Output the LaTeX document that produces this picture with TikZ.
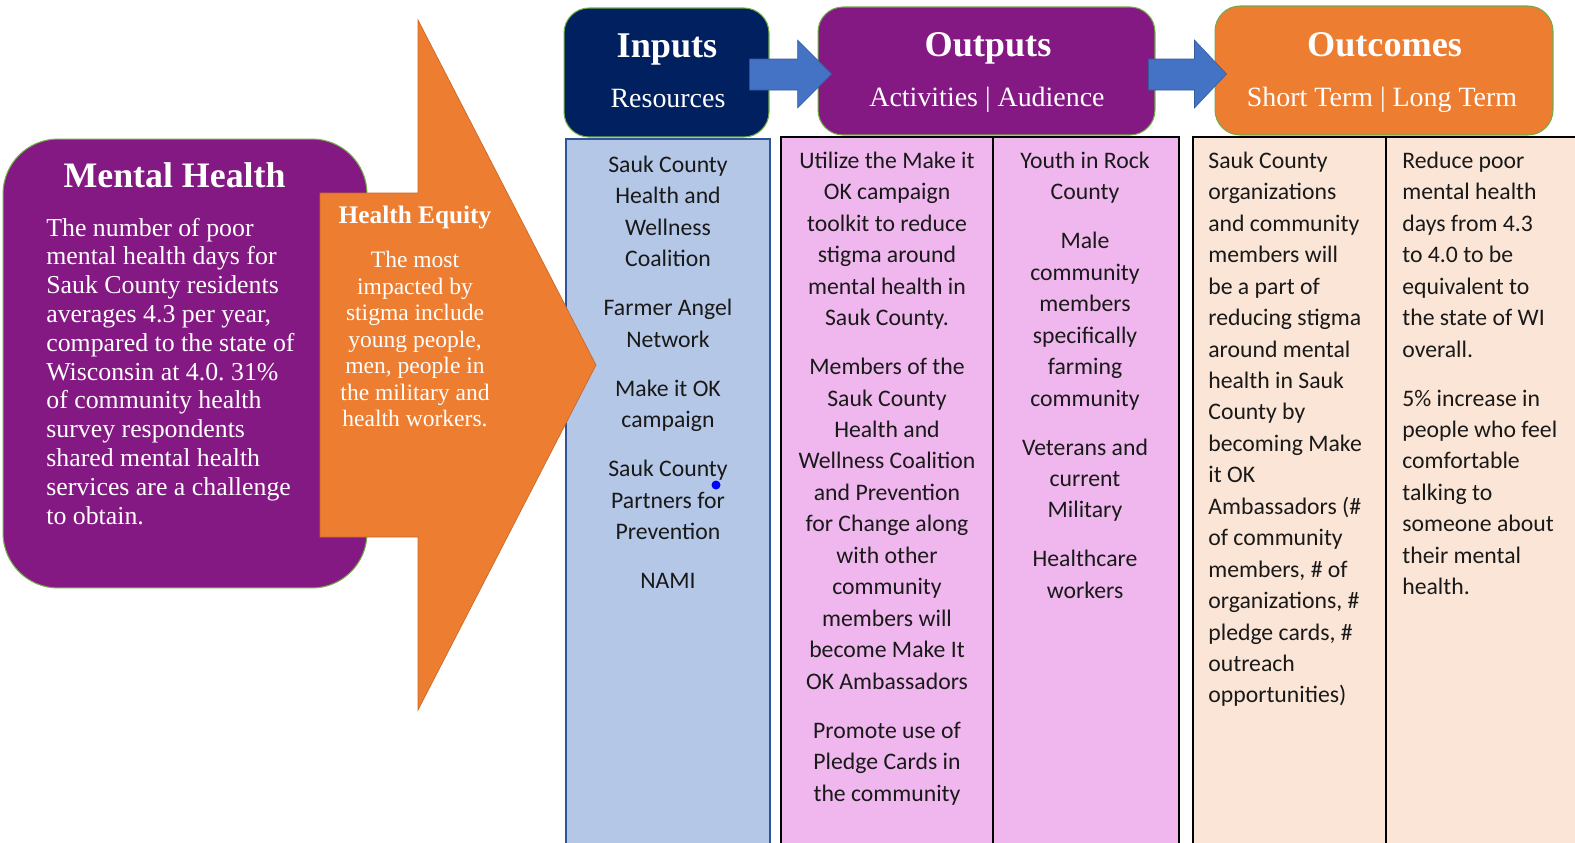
\documentclass[tikz,border=0pt]{standalone}
\usepackage{fontspec}
\setmainfont{Liberation Serif}
\newfontfamily\calfont{Carlito}
\usetikzlibrary{calc}
\usetikzlibrary{positioning}
\frenchspacing

\definecolor{mhpurple}{RGB}{133,25,131}
\definecolor{eqorange}{RGB}{237,125,49}
\definecolor{navy}{RGB}{0,32,96}
\definecolor{arrowblue}{RGB}{68,114,196}
\definecolor{inblue}{RGB}{180,199,231}
\definecolor{inborder}{RGB}{47,85,151}
\definecolor{outpink}{RGB}{240,183,238}
\definecolor{outpeach}{RGB}{251,229,214}
\definecolor{edgegreen}{RGB}{112,173,71}

\tikzset{
  headbox/.style={rectangle, rounded corners=0.5cm, draw=edgegreen, line width=0.6pt, inner sep=0pt},
  headtitle/.style={anchor=base, text=white, font=\bfseries\fontsize{20.6}{24}\selectfont},
  headsub/.style={anchor=base, text=white, font=\fontsize{15.9}{19}\selectfont},
  coltext/.style={inner sep=0pt, text=black!90, font=\calfont\fontsize{13.5}{17.9}\selectfont},
  bluearrow/.style={fill=arrowblue, draw=arrowblue!80!black, line width=0.3pt},
}

\begin{document}
\begin{tikzpicture}[x=0.02cm, y=-0.02cm]
            \useasboundingbox (0,0) rectangle (1575,842);
            \clip (0,0) rectangle (1575,842);

            % Columns
            \draw[fill=inblue, draw=inborder, line width=0.8pt] (566,139) rectangle (770,860);
            \draw[fill=outpink, draw=black, line width=1pt] (781,137) rectangle (993,860);
            \draw[fill=outpink, draw=black, line width=1pt] (993,137) rectangle (1179,860);
            \draw[fill=outpeach, draw=black, line width=1pt] (1193,137) rectangle (1386,860);
            \draw[fill=outpeach, draw=black, line width=1pt] (1386,137) rectangle (1600,860);

            % Mental health box and equity arrow
            \node[rectangle, rounded corners=1.1cm, fill=mhpurple, draw=edgegreen, line width=0.6pt,
                  minimum width=7.28cm, minimum height=8.98cm] (mh) at (185,363.5) {};
            \draw[fill=eqorange, draw=eqorange!85!black, line width=0.4pt]
                (320,193) -- (418,193) -- (418,20) -- (596,365) -- (418,710) -- (418,537) -- (320,537) -- cycle;

            % Header boxes
            \node[headbox, fill=navy, minimum width=4.1cm, minimum height=2.58cm] (inputs) at (666.5,72.5) {};
            \node[headbox, fill=mhpurple, minimum width=6.74cm, minimum height=2.56cm] (outputs) at (986.5,71) {};
            \node[headbox, fill=eqorange, minimum width=6.76cm, minimum height=2.58cm] (outcomes) at (1384,70.5) {};

            % Arrows between headers
            \draw[bluearrow] ($(inputs.east)+(-20,-13.5)$) -- ++(48,0) -- ++(0,-19) -- ++(34,34)
                -- ++(-34,34) -- ++(0,-18) -- ++(-48,0) -- cycle;
            \draw[bluearrow] ($(outputs.east)+(-7,-12)$) -- ++(46,0) -- ++(0,-19) -- ++(32,34)
                -- ++(-32,34) -- ++(0,-18) -- ++(-46,0) -- cycle;

            % Header texts
            \node[headtitle] (intitle) at ($(inputs.north)+(0.5,50)$) {Inputs};
            \node[headsub] (insub) at ($(inputs.north)+(1.5,100)$) {Resources};
            \node[headtitle] (outtitle) at ($(outputs.north)+(1.5,50)$) {Outputs};
            \node[headsub] (outsub) at ($(outputs.north)+(0.5,100)$) {Activities | Audience};
            \node[headtitle] (ouctitle) at ($(outcomes.north)+(0.5,51)$) {Outcomes};
            \node[headsub] (oucsub) at ($(outcomes.north)+(-2,101)$) {Short Term | Long Term};

            % Left texts
            \node[anchor=base, text=white, font=\bfseries\fontsize{20.4}{24}\selectfont] (mhtitle) at (174.5,187) {Mental Health};
            \node[anchor=north west, align=left, inner sep=0pt, text=white, font=\fontsize{14.7}{16.4}\selectfont] (mhtext) at (46,217.5)
                {The number of poor\\mental health days for\\Sauk County residents\\averages 4.3 per year,\\compared to the state of\\Wisconsin at 4.0. 31\%\\of community health\\survey respondents\\shared mental health\\services are a challenge\\to obtain.};
            \node[anchor=base, text=white, font=\bfseries\fontsize{14.4}{17}\selectfont] (eqtitle) at (415,223) {Health Equity};
            \node[anchor=north, align=center, inner sep=0pt, text=white, font=\fontsize{13.4}{15.1}\selectfont] (eqtext) at (415,251)
                {The most\\impacted by\\stigma include\\young people,\\men, people in\\the military and\\health workers.};

            % Column texts
            \node[coltext, anchor=north, align=center] (resources) at (668,155.5)
                {Sauk County\\Health and\\Wellness\\Coalition\\[10pt]Farmer Angel\\Network\\[10pt]Make it OK\\campaign\\[10pt]Sauk County\\Partners for\\Prevention\\[10pt]NAMI};
            \node[coltext, anchor=north, align=center] (activities) at (887,151.5)
                {Utilize the Make it\\OK campaign\\toolkit to reduce\\stigma around\\mental health in\\Sauk County.\\[10pt]Members of the\\Sauk County\\Health and\\Wellness Coalition\\and Prevention\\for Change along\\with other\\community\\members will\\become Make It\\OK Ambassadors\\[10pt]Promote use of\\Pledge Cards in\\the community};
            \node[coltext, anchor=north, align=center] (audience) at (1085,151.5)
                {Youth in Rock\\County\\[10pt]Male\\community\\members\\specifically\\farming\\community\\[10pt]Veterans and\\current\\Military\\[10pt]Healthcare\\workers};
            \node[coltext, anchor=north west, align=left] (shortterm) at (1208,151.5)
                {Sauk County\\organizations\\and community\\members will\\be a part of\\reducing stigma\\around mental\\health in Sauk\\County by\\becoming Make\\it OK\\Ambassadors (\#\\of community\\members, \# of\\organizations, \#\\pledge cards, \#\\outreach\\opportunities)};
            \node[coltext, anchor=north west, align=left] (longterm) at (1402,151.5)
                {Reduce poor\\mental health\\days from 4.3\\to 4.0 to be\\equivalent to\\the state of WI\\overall.\\[10pt]5\% increase in\\people who feel\\comfortable\\talking to\\someone about\\their mental\\health.};

            % Dot
            \node[circle, fill=blue, inner sep=0pt, minimum size=0.18cm] (dot) at (716,485) {};

        \end{tikzpicture}
\end{document}
